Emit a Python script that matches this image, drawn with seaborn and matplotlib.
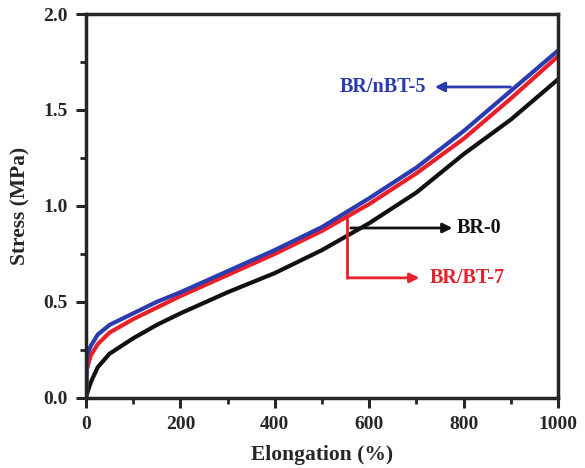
import matplotlib
matplotlib.use("Agg")
import matplotlib.pyplot as plt
import seaborn as sns
import pandas as pd

elong = [0, 2, 10, 25, 50, 100, 150, 200, 300, 400, 500, 600, 700, 800, 900, 1000]
br_nbt5 = [0.0, 0.22, 0.27, 0.33, 0.38, 0.44, 0.50, 0.55, 0.66, 0.77, 0.89, 1.04, 1.20, 1.39, 1.60, 1.81]
br_bt7 = [0.0, 0.15, 0.22, 0.28, 0.34, 0.41, 0.47, 0.53, 0.64, 0.75, 0.87, 1.01, 1.17, 1.35, 1.56, 1.78]
br_0 = [0.0, 0.02, 0.08, 0.16, 0.23, 0.31, 0.38, 0.44, 0.55, 0.65, 0.77, 0.91, 1.07, 1.27, 1.45, 1.66]
names = ["BR-0", "BR/BT-7", "BR/nBT-5"]
colors = {"BR-0": "#111111", "BR/BT-7": "#e8202a", "BR/nBT-5": "#2b3bb0"}

rows = []
for name, ys in zip(names, [br_0, br_bt7, br_nbt5]):
    for x, y in zip(elong, ys):
        rows.append({"Elongation": x, "Stress": y, "Sample": name})
df = pd.DataFrame(rows)

sns.set_style("ticks")
plt.rcParams['font.family'] = ['Liberation Serif', 'DejaVu Serif']
plt.rcParams['font.weight'] = 'bold'

fig = plt.figure(figsize=(5.85, 4.68), dpi=100)
ax = fig.add_axes([0.147, 0.150, 0.807, 0.820])
sns.lineplot(data=df, x="Elongation", y="Stress", hue="Sample", palette=colors,
             hue_order=names, linewidth=3, ax=ax, legend=False)

ax.set_xlim(0, 1000)
ax.set_ylim(0, 2.0)
ax.set_xticks([0, 200, 400, 600, 800, 1000])
ax.set_xticks([100, 300, 500, 700, 900], minor=True)
ax.set_yticks([0.0, 0.5, 1.0, 1.5, 2.0])
ax.set_yticks([0.25, 0.75, 1.25, 1.75], minor=True)
ax.set_yticklabels(["0.0", "0.5", "1.0", "1.5", "2.0"])
ax.tick_params(axis='both', which='major', direction='out', length=7, width=2.2,
               labelsize=14, pad=6)
ax.tick_params(axis='both', which='minor', direction='out', length=4, width=2)
for lab in ax.get_xticklabels() + ax.get_yticklabels():
    lab.set_fontweight('bold')
for s in ax.spines.values():
    s.set_linewidth(2.5)
    s.set_visible(True)

ax.set_xlabel("Elongation (%)", fontsize=15.5, fontweight='bold', labelpad=9)
ax.set_ylabel("Stress (MPa)", fontsize=15.5, fontweight='bold', labelpad=9)

# annotations
ax.annotate("", xy=(733, 1.62), xytext=(905, 1.62),
            arrowprops=dict(arrowstyle="-|>", color=colors["BR/nBT-5"], lw=2, mutation_scale=14))
ax.text(720, 1.62, "BR/nBT-5", color=colors["BR/nBT-5"], ha='right', va='center',
        fontsize=14.5, fontweight='bold')

ax.annotate("", xy=(782, 0.885), xytext=(555, 0.885),
            arrowprops=dict(arrowstyle="-|>", color=colors["BR-0"], lw=2, mutation_scale=14))
ax.text(786, 0.885, "BR-0", color=colors["BR-0"], ha='left', va='center',
        fontsize=14.5, fontweight='bold')

ax.plot([553, 553], [0.95, 0.625], color=colors["BR/BT-7"], lw=2)
ax.annotate("", xy=(712, 0.625), xytext=(552, 0.625),
            arrowprops=dict(arrowstyle="-|>", color=colors["BR/BT-7"], lw=2, mutation_scale=14))
ax.text(727, 0.625, "BR/BT-7", color=colors["BR/BT-7"], ha='left', va='center',
        fontsize=14.5, fontweight='bold')

fig.savefig("out.png", dpi=100)
